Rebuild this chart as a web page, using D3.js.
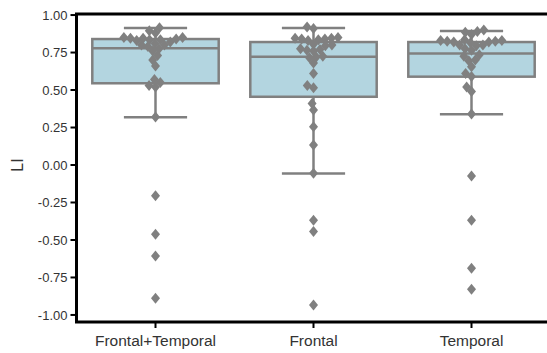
<!DOCTYPE html>
<html>
<head>
<meta charset="utf-8">
<script src="https://cdn.jsdelivr.net/npm/d3@7"></script>
<style>
  body { margin: 0; background: #fff; }
  text { font-family: "Liberation Sans", Arial, sans-serif; }
</style>
</head>
<body>
<div id="chart"></div>
<script>
var categories = ["Frontal+Temporal", "Frontal", "Temporal"];
var yTicks = [1.00, 0.75, 0.50, 0.25, 0.00, -0.25, -0.50, -0.75, -1.00];

// LI values per group
var liFrontalTemporal = [0.915, 0.895, 0.88, 0.85, 0.85, 0.845, 0.845, 0.84, 0.835, 0.835, 0.83, 0.82,
    0.81, 0.80, 0.80, 0.79, 0.775, 0.76, 0.73, 0.70, 0.66, 0.57, 0.55, 0.53, 0.52, 0.32,
    -0.205, -0.462, -0.607, -0.889];
var liFrontal = [0.92, 0.91, 0.85, 0.845, 0.845, 0.84, 0.84, 0.835, 0.83, 0.805, 0.80, 0.795,
    0.775, 0.77, 0.765, 0.76, 0.725, 0.72, 0.715, 0.68, 0.61, 0.53, 0.515, 0.41, 0.367,
    0.255, 0.133, -0.055, -0.369, -0.444, -0.933];
var liTemporal = [0.90, 0.89, 0.885, 0.87, 0.835, 0.83, 0.83, 0.825, 0.825, 0.82, 0.82, 0.815,
    0.80, 0.80, 0.795, 0.775, 0.765, 0.735, 0.725, 0.70, 0.695, 0.655, 0.61, 0.59, 0.52,
    0.49, 0.34, -0.073, -0.369, -0.689, -0.829];

// box statistics per group
var boxQ1 = [0.545, 0.455, 0.589];
var boxMedian = [0.778, 0.722, 0.744];
var boxQ3 = [0.84, 0.82, 0.82];
var whiskerLow = [0.318, -0.056, 0.338];
var whiskerHigh = [0.913, 0.913, 0.893];

var groups = [liFrontalTemporal, liFrontal, liTemporal];

var width = 547, height = 353;
var margin = {left: 76.5, top: 14, bottom: 31};

var svg = d3.select("#chart").append("svg")
    .attr("width", width)
    .attr("height", height);

var x = d3.scaleBand()
    .domain(categories)
    .range([margin.left, margin.left + 474]);

var y = d3.scaleLinear()
    .domain([-1.047, 1.007])
    .range([height - margin.bottom, margin.top]);

var grey = "#808080";
var boxW = x.bandwidth() * 0.8;
var capW = boxW / 2;

// boxes
categories.forEach(function (c, i) {
    var cx = x(c) + x.bandwidth() / 2;
    var g = svg.append("g");
    g.append("line")
        .attr("x1", cx).attr("x2", cx)
        .attr("y1", y(boxQ3[i])).attr("y2", y(whiskerHigh[i]))
        .attr("stroke", grey).attr("stroke-width", 2.5);
    g.append("line")
        .attr("x1", cx).attr("x2", cx)
        .attr("y1", y(boxQ1[i])).attr("y2", y(whiskerLow[i]))
        .attr("stroke", grey).attr("stroke-width", 2.5);
    [whiskerHigh[i], whiskerLow[i]].forEach(function (v) {
        g.append("line")
            .attr("x1", cx - capW / 2).attr("x2", cx + capW / 2)
            .attr("y1", y(v)).attr("y2", y(v))
            .attr("stroke", grey).attr("stroke-width", 2.5);
    });
    g.append("rect")
        .attr("x", cx - boxW / 2)
        .attr("y", y(boxQ3[i]))
        .attr("width", boxW)
        .attr("height", y(boxQ1[i]) - y(boxQ3[i]))
        .attr("fill", "#b3d5e0")
        .attr("stroke", grey).attr("stroke-width", 2.5);
    g.append("line")
        .attr("x1", cx - boxW / 2).attr("x2", cx + boxW / 2)
        .attr("y1", y(boxMedian[i])).attr("y2", y(boxMedian[i]))
        .attr("stroke", grey).attr("stroke-width", 2.5);
});

// simple beeswarm
function swarm(values, d) {
    var pts = values.map(function (v) { return {v: v, py: y(v)}; })
        .sort(function (a, b) { return b.py - a.py; });
    var placed = [];
    pts.forEach(function (p) {
        var near = placed.filter(function (q) { return Math.abs(q.py - p.py) < d; });
        var cands = [0];
        near.forEach(function (q) {
            var dx = Math.sqrt(d * d - (q.py - p.py) * (q.py - p.py));
            cands.push(q.x - dx, q.x + dx);
        });
        cands.sort(function (a, b) { return Math.abs(a) - Math.abs(b); });
        for (var k = 0; k < cands.length; k++) {
            var c = cands[k];
            var ok = near.every(function (q) {
                return (q.x - c) * (q.x - c) + (q.py - p.py) * (q.py - p.py) >= d * d - 1e-6;
            });
            if (ok) { p.x = c; break; }
        }
        placed.push(p);
    });
    return placed;
}

var diamond = "M0,-5.5L4.5,0L0,5.5L-4.5,0Z";

categories.forEach(function (c, i) {
    var cx = x(c) + x.bandwidth() / 2;
    svg.append("g").selectAll("path")
        .data(swarm(groups[i], 6.6))
        .enter()
        .append("path")
        .attr("d", diamond)
        .attr("transform", function (d) { return "translate(" + (cx + d.x) + "," + d.py + ")"; })
        .attr("fill", grey);
});

// frame: left, top, bottom spines
var x0 = margin.left, x1 = width + 5;
var yTop = margin.top, yBot = height - margin.bottom;
svg.append("path")
    .attr("d", "M" + x1 + "," + yTop + "H" + x0 + "V" + yBot + "H" + x1)
    .attr("fill", "none")
    .attr("stroke", "#000")
    .attr("stroke-width", 3);

// y axis ticks
var fmt = function (t) { return d3.format(".2f")(t).replace("\u2212", "-"); };
var yAxis = svg.append("g");
yTicks.forEach(function (t) {
    yAxis.append("line")
        .attr("x1", x0 - 6).attr("x2", x0)
        .attr("y1", y(t)).attr("y2", y(t))
        .attr("stroke", "#000").attr("stroke-width", 2);
    yAxis.append("text")
        .attr("x", x0 - 9)
        .attr("y", y(t))
        .attr("dy", "0.35em")
        .attr("text-anchor", "end")
        .attr("font-size", 13)
        .attr("fill", "#333")
        .text(fmt(t));
});

// x axis ticks
var xAxis = svg.append("g");
categories.forEach(function (c) {
    var cx = x(c) + x.bandwidth() / 2;
    xAxis.append("line")
        .attr("x1", cx).attr("x2", cx)
        .attr("y1", yBot).attr("y2", yBot + 6)
        .attr("stroke", "#000").attr("stroke-width", 2);
    xAxis.append("text")
        .attr("x", cx)
        .attr("y", 346)
        .attr("text-anchor", "middle")
        .attr("font-size", 15.5)
        .attr("fill", "#333")
        .text(c);
});

svg.append("text")
    .attr("transform", "translate(23," + y(0) + ") rotate(-90)")
    .attr("text-anchor", "middle")
    .attr("font-size", 16)
    .attr("fill", "#333")
    .text("LI");
</script>
</body>
</html>
